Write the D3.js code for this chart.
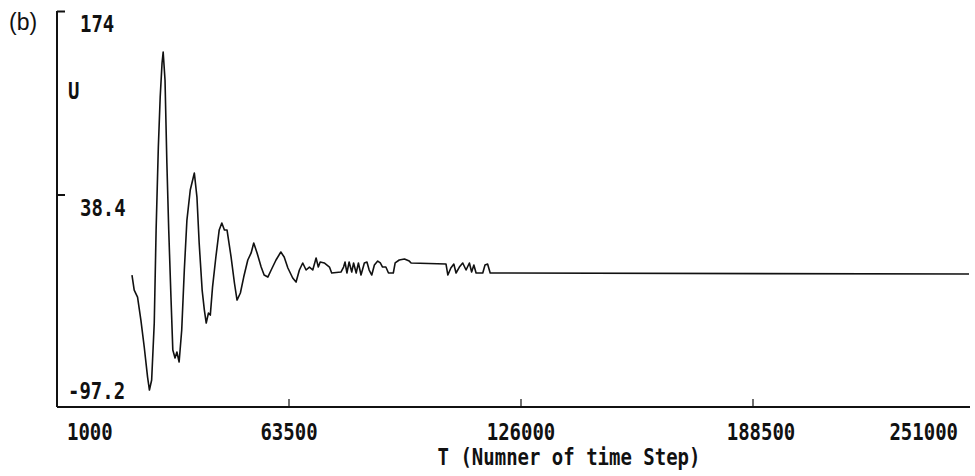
<!DOCTYPE html>
<head>
<meta charset="utf-8">
<style>
body { margin: 0; background: #fff; }
text.lbl {
  font-family: "DejaVu Sans Mono", monospace;
  font-weight: bold;
  font-size: 19px;
  fill: #111;
}
path.curve {
  fill: none;
  stroke: #111;
  stroke-width: 1.6px;
  stroke-linejoin: round;
}
</style>
</head>
<body>
<script src="https://cdn.jsdelivr.net/npm/d3@7"></script>
<script>

// time step values
var steps = [21200, 21800, 22700, 23600, 24500, 25400, 25900, 26500, 27200, 27700,
  28300, 28800, 29300, 29600, 30100, 30600, 31100, 31700, 32200, 32800,
  33300, 33900, 34600, 35300, 36000, 36900, 38000, 38700, 39300, 40100,
  40700, 41200, 41800, 42300, 42900, 43800, 44700, 45400, 46100, 46800,
  47900, 48800, 49500, 50400, 51300, 52400, 53300, 54000, 54900, 56000,
  56800, 57800, 58700, 60000, 61300, 62200, 63200, 64500, 65400, 66300,
  67200, 68100, 69000, 69900, 70800, 71400, 71900, 73000, 74400, 75000,
  77500, 78200, 78600, 79100, 79700, 80400, 80900, 81600, 82200, 82900,
  83800, 84500, 85100, 85800, 86500, 87400, 88100, 88700, 89600, 90300,
  91600, 92100, 93200, 94600, 95900, 96400, 105800, 106300, 107100, 107900,
  108500, 109400, 110300, 111200, 112100, 112700, 113300, 113900, 115700, 116300,
  117000, 117700, 246700];

var uValues = [-21.1, -32.2, -37.4, -54.4, -74.3, -96.5, -106.1, -98.7, -56.6, 12.2,
  73.5, 110.4, 135.6, 143.7, 123, 61.7, 12.2, -37.4, -76.5, -82.4,
  -78, -85.4, -61.7, -17.4, 19.5, 41.7, 54.3, 36.5, 2.6, -32.2,
  -47, -56.6, -49.2, -50.7, -30, -7.8, 12.2, 17.3, 12.2, 12.2,
  -7.8, -27, -39.6, -34.4, -22.6, -10, -4.8, 2.6, -4.8, -15.2,
  -21.1, -22.6, -17.4, -10, -4.1, -7.8, -15.9, -23.3, -26.3, -17.4,
  -12.2, -17.4, -15.2, -17.4, -8.5, -15.2, -11.5, -12.2, -15.2, -19.6,
  -18.9, -15.2, -11.5, -19.6, -11.5, -18.9, -12.2, -19.6, -12.2, -21.1,
  -12.2, -11.5, -17.4, -21.1, -13.7, -10.8, -12.2, -15.2, -15.2, -19.6,
  -19.6, -12.2, -10, -9.3, -10.8, -12.2, -13, -21.1, -15.9, -13,
  -19.6, -15.2, -12.2, -17.4, -12.2, -18.9, -13.7, -19.6, -19.6, -13.7,
  -13, -19.6, -20.4];

var xTicks = [1000, 63500, 126000, 188500, 251000];
var yTicks = [174, 38.4, -97.2];

var width = 975,
    height = 476;

var x = d3.scaleLinear().domain([1000, 251000]).range([57, 985]);
var y = d3.scaleLinear().domain([-97.2, 174]).range([378, 11]);
var axisY = 407;

var svg = d3.select("body").append("svg")
    .attr("width", width)
    .attr("height", height);

svg.append("rect").attr("width", width).attr("height", height).attr("fill", "#fff");

// old plotter style text, tall and narrow
function label(tx, ty, str, anchor) {
  return svg.append("text")
      .attr("class", "lbl")
      .attr("text-anchor", anchor || "start")
      .attr("transform", "translate(" + tx + "," + ty + ") scale(1,1.2)")
      .text(str);
}

// axes frame
svg.append("line")
    .attr("x1", x(1000)).attr("x2", x(1000))
    .attr("y1", y(174)).attr("y2", axisY)
    .attr("stroke", "#111").attr("stroke-width", 2);
svg.append("line")
    .attr("x1", x(1000)).attr("x2", 970)
    .attr("y1", axisY).attr("y2", axisY)
    .attr("stroke", "#111").attr("stroke-width", 2);

// y ticks + labels
yTicks.forEach(function(v) {
  if (v > yTicks[2]) {
    svg.append("line")
        .attr("x1", x(1000)).attr("x2", x(1000) + 8)
        .attr("y1", y(v) + 0.5).attr("y2", y(v) + 0.5)
        .attr("stroke", "#111").attr("stroke-width", 2);
  }
  var lx = String(v).charAt(0) == "-" ? 68 : 80;
  label(lx, y(v) + 21, String(v));
});
label(68, 99, "U");

// x ticks + labels
xTicks.forEach(function(v, i) {
  var tx = x(v);
  if (i > 0 && tx < 970) {
    svg.append("line")
        .attr("x1", tx).attr("x2", tx)
        .attr("y1", axisY).attr("y2", axisY - 8)
        .attr("stroke", "#111").attr("stroke-width", 1.2);
  }
  if (i == 0) label(tx + 10, 440, String(v), "start");
  else if (i == xTicks.length - 1) label(Math.min(tx, 958), 440, String(v), "end");
  else label(tx + (i == 3 ? 8 : 0), 440, String(v), "middle");
});
label(569, 465, "T (Numner of time Step)", "middle");

svg.append("text")
    .attr("x", 9).attr("y", 30)
    .attr("font-family", "Liberation Sans, Arial, sans-serif")
    .attr("font-size", 23)
    .attr("fill", "#111")
    .text("(b)");

// the U curve
var line = d3.line()
    .x(function(d, i) { return x(steps[i]); })
    .y(function(d) { return y(d); });

svg.append("path")
    .datum(uValues)
    .attr("class", "curve")
    .attr("d", line);

</script>
</body>
</html>
